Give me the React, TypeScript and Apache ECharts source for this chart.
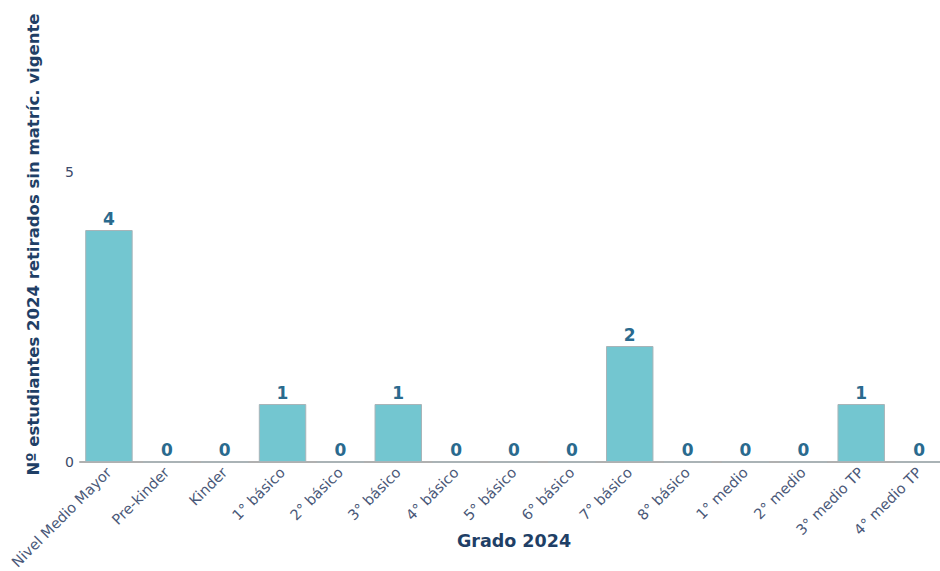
import React, { useEffect, useRef } from "react";
import * as echarts from "echarts";

const categories = [
  "Nivel Medio Mayor",
  "Pre-kinder",
  "Kinder",
  "1° básico",
  "2° básico",
  "3° básico",
  "4° básico",
  "5° básico",
  "6° básico",
  "7° básico",
  "8° básico",
  "1° medio",
  "2° medio",
  "3° medio TP",
  "4° medio TP",
];
const values = [4, 0, 0, 1, 0, 1, 0, 0, 0, 2, 0, 0, 0, 1, 0];
const yTicks = [0, 5];

export default function App() {
  const ref = useRef<HTMLDivElement>(null);
  useEffect(() => {
    if (!ref.current) return;
    const chart = echarts.init(ref.current, null, { renderer: "svg" });
    chart.setOption({
      animation: false,
      textStyle: { fontFamily: "DejaVu Sans" },
      grid: {
        left: 80,
        width: 868,
        top: 27,
        height: 435,
        containLabel: false,
        outerBoundsMode: "none",
      },
      xAxis: {
        type: "category",
        data: categories,
        name: "Grado 2024",
        nameLocation: "middle",
        nameGap: 70,
        nameMoveOverlap: false,
        nameTextStyle: { fontSize: 17.5, fontWeight: "bold", color: "#1F3F66" },
        axisLine: { show: true, lineStyle: { color: "#B0B0B0", width: 2 } },
        axisTick: { show: false },
        axisLabel: {
          rotate: 45,
          interval: 0,
          fontSize: 14.5,
          color: "#4A5878",
          margin: 8,
        },
      },
      yAxis: {
        type: "value",
        min: 0,
        max: 7.5,
        interval: 5,
        name: "Nº estudiantes 2024 retirados sin matríc. vigente",
        nameLocation: "middle",
        nameGap: 38,
        nameMoveOverlap: false,
        nameTextStyle: { fontSize: 16.5, fontWeight: "bold", color: "#1F3F66" },
        axisLine: { show: false },
        axisTick: { show: false },
        splitLine: { show: false },
        axisLabel: {
          fontSize: 14,
          color: "#3C4A6A",
          margin: 6,
          showMaxLabel: false,
          formatter: (v: number) => (yTicks.includes(v) ? String(v) : ""),
        },
      },
      series: [
        {
          type: "bar",
          data: values,
          barCategoryGap: "18%",
          itemStyle: { color: "#73C6D0", borderColor: "#A8B4B8", borderWidth: 1 },
          label: {
            show: true,
            position: "top",
            fontSize: 17,
            fontWeight: "bold",
            color: "#2A6A8E",
            distance: 3,
          },
        },
      ],
    });
    return () => chart.dispose();
  }, []);
  return (
    <div
      ref={ref}
      style={{ position: "absolute", left: 0, top: 0, width: 940, height: 571 }}
    />
  );
}
